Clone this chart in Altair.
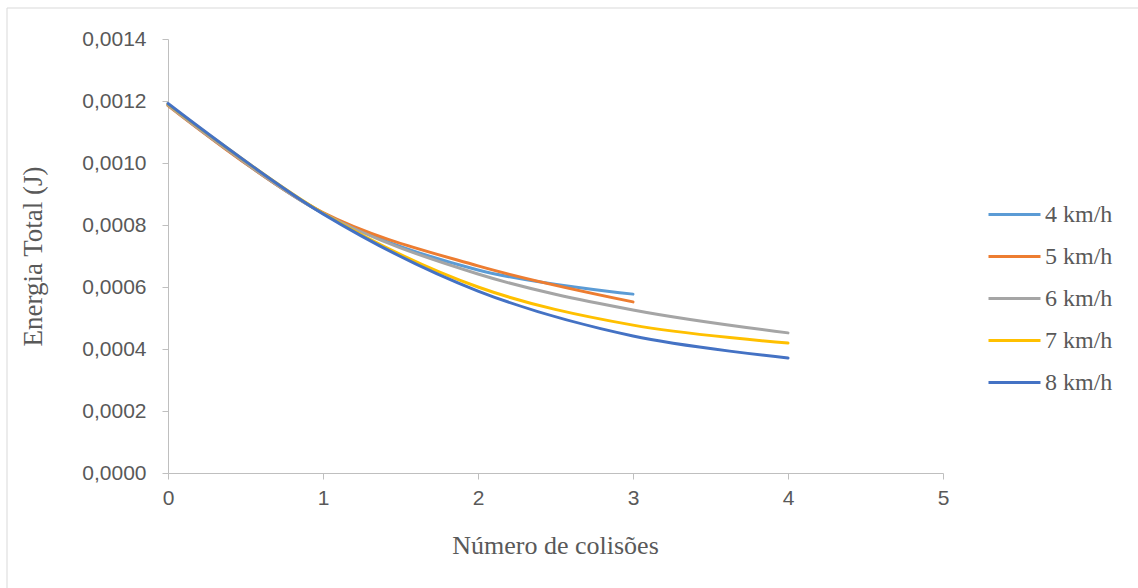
import altair as alt
import pandas as pd

series = ["4 km/h", "5 km/h", "6 km/h", "7 km/h", "8 km/h"]
colors = ["#5B9BD5", "#ED7D31", "#A5A5A5", "#FFC000", "#4472C4"]
collisions = [0, 1, 2, 3, 4]
e4 = [0.001188, 0.000838, 0.000655, 0.000577]
e5 = [0.001185, 0.000840, 0.000668, 0.000552]
e6 = [0.001187, 0.000838, 0.000642, 0.000526, 0.000452]
e7 = [0.001190, 0.000838, 0.000600, 0.000477, 0.000419]
e8 = [0.001192, 0.000836, 0.000587, 0.000442, 0.000371]

rows = []
for name, vals in zip(series, [e4, e5, e6, e7, e8]):
    for x, v in zip(collisions, vals):
        rows.append({"Velocidade": name, "Colisoes": x, "Energia": v})
df = pd.DataFrame(rows)

axis_col = "#595959"
grid_col = "#BFBFBF"

lines = alt.Chart(df).mark_line(strokeWidth=3, interpolate="catmull-rom", strokeCap="round").encode(
    x=alt.X("Colisoes:Q",
            scale=alt.Scale(domain=[0, 5], nice=False, zero=True),
            axis=alt.Axis(title="Número de colisões", values=[0, 1, 2, 3, 4, 5], format="d",
                          grid=False, domainColor=grid_col, tickColor=grid_col, tickSize=6,
                          labelFlush=False,
                          labelFont="Liberation Sans", labelFontSize=21, labelColor=axis_col,
                          labelPadding=8,
                          titleFont="Liberation Serif", titleFontSize=26, titleColor=axis_col,
                          titleFontWeight="normal", titleX=387, titleY=72, titleBaseline="middle")),
    y=alt.Y("Energia:Q",
            scale=alt.Scale(domain=[0, 0.0014], nice=False),
            axis=alt.Axis(title="Energia Total (J)", values=[0, 0.0002, 0.0004, 0.0006, 0.0008, 0.0010, 0.0012, 0.0014],
                          labelExpr="replace(format(datum.value, '.4f'), '.', ',')",
                          grid=False, domainColor=grid_col, tickColor=grid_col, tickSize=6,
                          labelFlush=False,
                          labelFont="Liberation Sans", labelFontSize=21, labelColor=axis_col,
                          labelPadding=16,
                          titleFont="Liberation Serif", titleFontSize=27, titleColor=axis_col,
                          titleFontWeight="normal", titleAngle=-90, titleX=-135, titleY=217,
                          titleBaseline="middle", titleAlign="center")),
    color=alt.Color("Velocidade:N",
                    scale=alt.Scale(domain=series, range=colors),
                    legend=alt.Legend(title=None, orient="none", legendX=819, legendY=148,
                                      symbolType="stroke", symbolStrokeWidth=3, symbolSize=2704,
                                      labelFont="Liberation Serif", labelFontSize=24,
                                      labelColor=axis_col, rowPadding=2, labelOffset=3)),
)

border = alt.Chart(pd.DataFrame({"b": [0]})).mark_rect(fill=None, stroke="#D9D9D9", strokeWidth=1).encode(
    x=alt.value(-161), x2=alt.value(1000), y=alt.value(-31), y2=alt.value(560)
)

chart = alt.layer(border, lines).properties(
    width=775, height=434,
    background="white",
    autosize=alt.AutoSizeParams(type="none"),
    padding={"left": 168, "top": 39, "right": 195, "bottom": 115},
).configure_view(strokeWidth=0, stroke=None)

chart.save("out.html", embed_options={"renderer": "svg", "actions": False})
